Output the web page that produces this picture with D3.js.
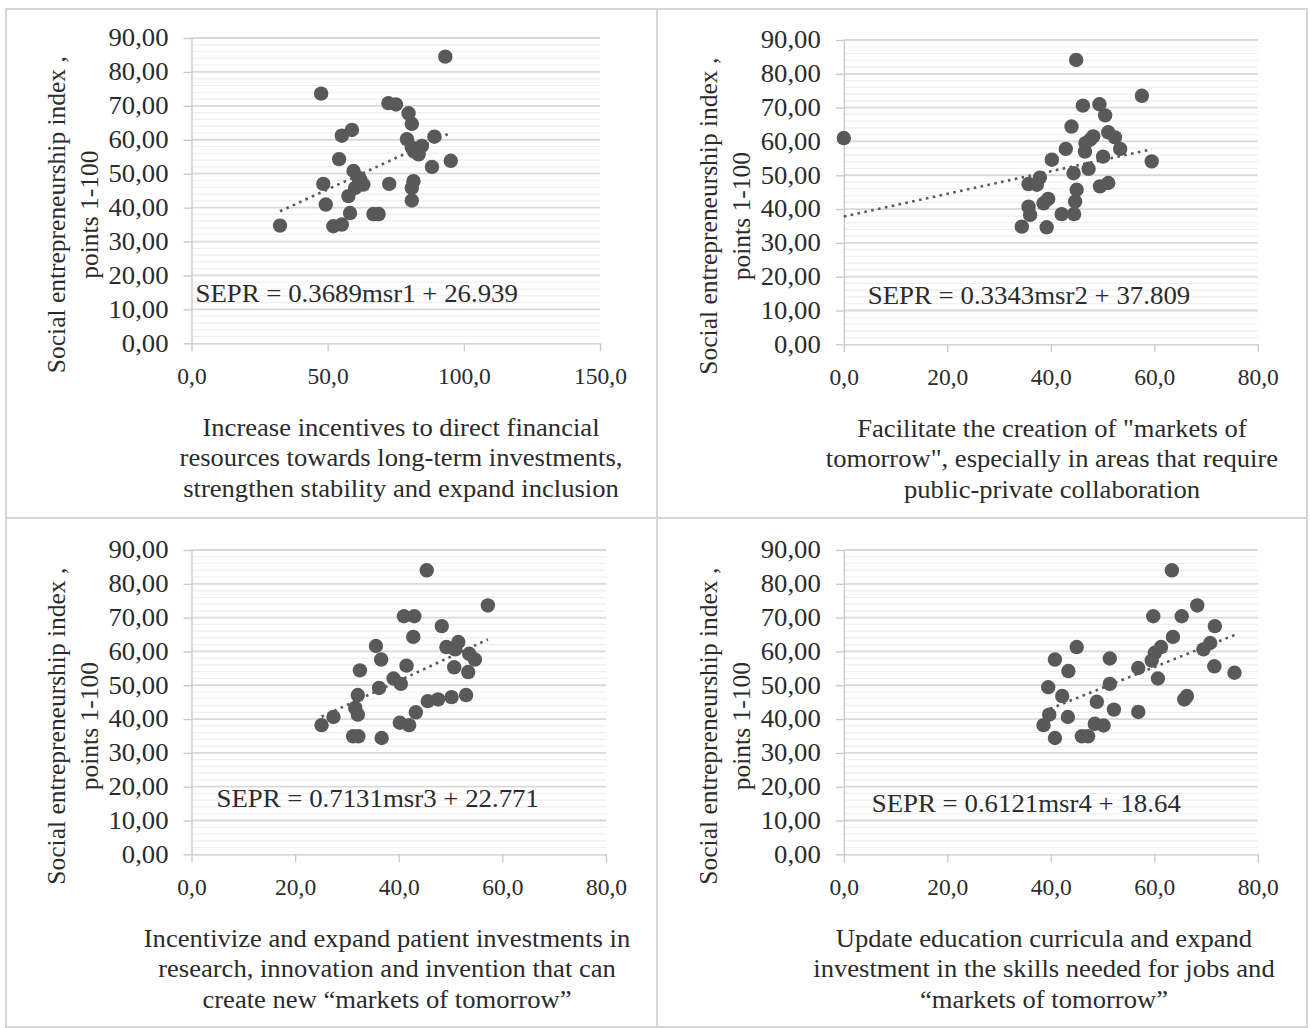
<!DOCTYPE html>
<html>
<head>
<meta charset="utf-8">
<script src="https://cdn.jsdelivr.net/npm/d3@7"></script>
<style>
  body { margin: 0; background: #fff; }
  svg text { font-family: "Liberation Serif", "Times New Roman", serif; fill: #2b2b2b; }
</style>
</head>
<body>
<svg id="chart" width="1310" height="1028"></svg>
<script>
// ---- data ----
const msr1X = [93.2, 47.6, 72.3, 75.1, 79.7, 80.9, 58.9, 55.2, 89.2, 79.1, 80.9, 83.4, 84.6, 95.2, 88.3, 54.2, 59.5, 61.3, 63.1, 60.1, 57.6, 48.4, 72.6, 81.5, 80.9, 80.9, 49.3, 58.2, 66.8, 68.7, 32.5, 52.1, 55.2, 61.9, 81.8];
const msr1Y = [84.5, 73.6, 70.8, 70.4, 67.8, 64.7, 62.9, 61.2, 60.9, 60.2, 57.7, 55.7, 58.2, 53.8, 52.0, 54.3, 50.8, 48.8, 46.8, 45.8, 43.4, 47.0, 47.0, 47.8, 45.8, 42.1, 40.9, 38.4, 38.1, 38.1, 34.7, 34.5, 35.0, 48.3, 56.5];

const msr2X = [44.9, 57.6, 46.2, 49.4, 50.5, 44.0, 48.2, 51.1, 52.4, 46.7, 46.6, 53.4, 42.9, 59.5, 50.1, 40.2, 47.3, 44.4, 37.9, 37.3, 35.7, 49.5, 51.1, 45.0, 39.5, 38.6, 35.7, 44.7, 36.0, 42.1, 44.5, 34.4, 39.2, 0.0, 47.6];
const msr2Y = [84.1, 73.5, 70.6, 71.0, 67.7, 64.4, 61.5, 62.7, 61.2, 59.5, 57.0, 57.8, 57.8, 54.1, 55.5, 54.6, 51.9, 50.6, 49.3, 47.2, 47.4, 46.7, 47.7, 45.7, 43.0, 41.7, 40.7, 42.2, 38.3, 38.5, 38.5, 34.8, 34.6, 61.0, 60.5];

const msr3X = [45.4, 57.2, 41.0, 43.0, 48.3, 42.8, 35.6, 51.5, 49.2, 50.9, 53.6, 54.7, 36.6, 41.5, 32.5, 50.7, 53.4, 39.0, 40.4, 36.2, 32.1, 31.6, 32.1, 27.4, 25.1, 45.6, 47.6, 50.2, 53.0, 43.3, 40.2, 42.0, 31.2, 32.2, 36.7];
const msr3Y = [84.0, 73.6, 70.4, 70.4, 67.5, 64.3, 61.6, 62.8, 61.3, 60.6, 59.3, 57.6, 57.6, 55.8, 54.4, 55.3, 53.9, 52.0, 50.4, 49.2, 47.1, 43.3, 41.3, 40.6, 38.2, 45.3, 45.8, 46.5, 47.1, 42.0, 38.9, 38.2, 34.9, 34.9, 34.4];

const msr4X = [63.4, 68.3, 59.8, 65.3, 71.7, 63.6, 70.8, 69.5, 61.3, 60.1, 59.5, 45.0, 40.8, 51.4, 56.9, 71.6, 75.5, 43.4, 60.7, 51.4, 39.5, 42.2, 66.3, 65.8, 48.9, 52.2, 56.9, 39.7, 43.3, 38.6, 48.5, 50.2, 40.8, 46.0, 47.2];
const msr4Y = [84.0, 73.6, 70.4, 70.4, 67.5, 64.3, 62.5, 60.6, 61.3, 59.6, 57.3, 61.3, 57.6, 57.9, 55.1, 55.6, 53.7, 54.2, 52.0, 50.4, 49.4, 46.8, 46.8, 45.8, 45.1, 42.8, 42.1, 41.3, 40.6, 38.2, 38.6, 38.1, 34.4, 34.9, 34.9];

// trend lines as printed on the chart
const trendSlope = [0.3689, 0.3343, 0.7131, 0.6121];
const trendIntercept = [26.939, 37.809, 22.771, 18.64];
const equations = [
  "SEPR = 0.3689msr1 + 26.939",
  "SEPR = 0.3343msr2 + 37.809",
  "SEPR = 0.7131msr3 + 22.771",
  "SEPR = 0.6121msr4 + 18.64"
];

// axes
const yTicks = [0, 10, 20, 30, 40, 50, 60, 70, 80, 90];
const xTicks1 = [0, 50, 100, 150];
const xTicks2 = [0, 20, 40, 60, 80];

const yTitle = ["Social entrepreneurship index ,", "points 1-100"];
const xTitles = [
  ["Increase  incentives to direct financial", "resources towards long-term investments,", "strengthen stability and expand inclusion"],
  ["Facilitate the creation of \"markets of", "tomorrow\", especially  in areas that require", "public-private collaboration"],
  ["Incentivize  and expand patient investments in", "research, innovation and invention that can", "create new \u201cmarkets of tomorrow\u201d"],
  ["Update education curricula and expand", "investment  in the skills needed  for jobs and", "\u201cmarkets of tomorrow\u201d"]
];

// ---- layout ----
const frames = [
  { x: 6, y: 9, w: 651, h: 509 },
  { x: 657, y: 9, w: 650, h: 509 },
  { x: 6, y: 518, w: 651, h: 509 },
  { x: 657, y: 518, w: 650, h: 509 }
];
const plots = [
  { left: 191.5, right: 600, top: 38, bottom: 343.3, xMax: 150, ticks: xTicks1, eqX: 4, eqY: 293, titleCx: 401 },
  { left: 843.8, right: 1257.8, top: 40, bottom: 344.3, xMax: 80, ticks: xTicks2, eqX: 24, eqY: 295, titleCx: 1052 },
  { left: 191.5, right: 606, top: 550, bottom: 854.3, xMax: 80, ticks: xTicks2, eqX: 25, eqY: 798, titleCx: 387 },
  { left: 843.8, right: 1257.8, top: 550, bottom: 854.3, xMax: 80, ticks: xTicks2, eqX: 28, eqY: 803, titleCx: 1044 }
];
const seriesX = [msr1X, msr2X, msr3X, msr4X];
const seriesY = [msr1Y, msr2Y, msr3Y, msr4Y];

const loc = d3.formatLocale({ decimal: ",", thousands: ".", grouping: [3], currency: ["", ""] });
const fmtY = loc.format(".2f");
const fmtX = loc.format(".1f");

// widen glyphs a little, the source font runs wider than Liberation Serif
function stretch(sel, k) {
  sel.each(function () {
    const w = this.getComputedTextLength();
    this.setAttribute("textLength", w * k);
    this.setAttribute("lengthAdjust", "spacingAndGlyphs");
  });
}

const svg = d3.select("#chart");
svg.append("rect").attr("width", 1310).attr("height", 1028).attr("fill", "#fff");

// panel borders
svg.selectAll("rect.frame").data(frames).enter().append("rect")
  .attr("class", "frame")
  .attr("x", d => d.x).attr("y", d => d.y)
  .attr("width", d => d.w).attr("height", d => d.h)
  .attr("fill", "none").attr("stroke", "#d6d6d6").attr("stroke-width", 2);

plots.forEach((p, i) => {
  const x = d3.scaleLinear().domain([0, p.xMax]).range([p.left, p.right]);
  const y = d3.scaleLinear().domain([0, 90]).range([p.bottom, p.top]);
  const g = svg.append("g");

  // minor grid every 2
  g.selectAll("line.minor").data(d3.range(2, 90, 2).filter(v => v % 10 !== 0)).enter().append("line")
    .attr("x1", p.left).attr("x2", p.right)
    .attr("y1", d => y(d)).attr("y2", d => y(d))
    .attr("stroke", "#eeeeee").attr("stroke-width", 1.2);
  // major grid
  g.selectAll("line.major").data(yTicks.slice(1)).enter().append("line")
    .attr("x1", p.left).attr("x2", p.right)
    .attr("y1", d => y(d)).attr("y2", d => y(d))
    .attr("stroke", "#d9d9d9").attr("stroke-width", 1.8);

  // y axis
  const ya = g.append("g").attr("transform", `translate(${p.left},0)`)
    .call(d3.axisLeft(y).tickValues(yTicks).tickFormat(fmtY).tickSize(8).tickSizeOuter(0).tickPadding(15));
  ya.select(".domain").attr("stroke", "#c8c8c8").attr("stroke-width", 1.3);
  ya.selectAll(".tick line").attr("stroke", "#c8c8c8").attr("stroke-width", 1.3);
  ya.selectAll(".tick text").attr("font-size", 24.5).attr("fill", null).attr("font-family", null);
  stretch(ya.selectAll(".tick text"), 1.09);

  // x axis
  const xa = g.append("g").attr("transform", `translate(0,${p.bottom})`)
    .call(d3.axisBottom(x).tickValues(p.ticks).tickFormat(fmtX).tickSize(8).tickSizeOuter(0).tickPadding(16));
  xa.select(".domain").attr("stroke", "#c8c8c8").attr("stroke-width", 1.3);
  xa.selectAll(".tick line").attr("stroke", "#c8c8c8").attr("stroke-width", 1.3);
  xa.selectAll(".tick text").attr("font-size", 23.5).attr("fill", null).attr("font-family", null);

  // trend line over the data range
  const ext = d3.extent(seriesX[i]);
  const trend = ext.map(v => [v, trendSlope[i] * v + trendIntercept[i]]);
  g.append("path")
    .datum(trend)
    .attr("d", d3.line().x(d => x(d[0])).y(d => y(d[1])))
    .attr("fill", "none").attr("stroke", "#595959")
    .attr("stroke-width", 2.6).attr("stroke-dasharray", "2.6 4.4");

  // points
  const pts = seriesX[i].map((v, k) => [v, seriesY[i][k]]);
  g.selectAll("circle").data(pts).enter().append("circle")
    .attr("cx", d => x(d[0])).attr("cy", d => y(d[1]))
    .attr("r", 7.2).attr("fill", "#595959");

  // equation
  const eq = g.append("text")
    .attr("x", p.left + p.eqX).attr("y", p.eqY)
    .attr("dominant-baseline", "central")
    .attr("font-size", 24.5)
    .text(equations[i]);
  stretch(eq, 1.095);

  // y title
  const yt = g.append("text")
    .attr("transform", `translate(${p.left - 135},${(p.top + p.bottom) / 2 + 24}) rotate(-90)`)
    .attr("text-anchor", "middle")
    .attr("font-size", 24.5);
  yTitle.forEach((line, k) => {
    yt.append("tspan").attr("x", 0).attr("y", k * 33).attr("dominant-baseline", "central").text(line);
  });
  stretch(yt.selectAll("tspan"), 1.04);

  // x title
  const xt = g.append("text").attr("text-anchor", "middle").attr("font-size", 24.5);
  xTitles[i].forEach((line, k) => {
    xt.append("tspan").attr("x", p.titleCx).attr("y", p.bottom + 84 + k * 30.5)
      .attr("dominant-baseline", "central").text(line);
  });
  stretch(xt.selectAll("tspan"), 1.085);
});
</script>
</body>
</html>
